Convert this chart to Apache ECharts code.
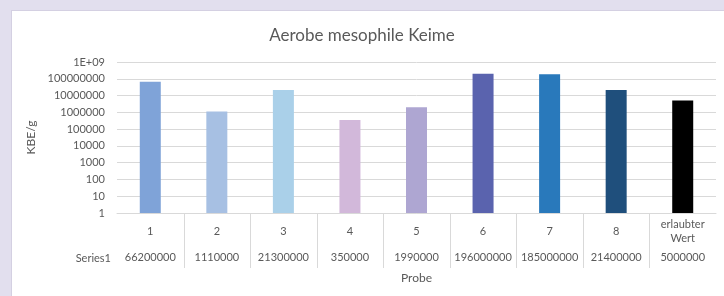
<!DOCTYPE html>
<html>
<head>
<meta charset="utf-8">
<script src="https://cdn.jsdelivr.net/npm/echarts@6/dist/echarts.min.js"></script>
<style>
html,body{margin:0;padding:0;background:#e2dfee;width:724px;height:296px;overflow:hidden;}
#frame{position:absolute;left:11px;top:10px;width:713px;height:286px;background:#ffffff;border-left:1px solid #d4d0e2;border-top:1px solid #d4d0e2;box-sizing:border-box;}
#chart{position:absolute;left:0;top:0;width:724px;height:296px;}
</style>
</head>
<body>
<div id="frame"></div>
<div id="chart"></div>
<script>
const titleText = 'Aerobe mesophile Keime';
const categories = ['1', '2', '3', '4', '5', '6', '7', '8', 'erlaubter\nWert'];
const values = [66200000, 1110000, 21300000, 350000, 1990000, 196000000, 185000000, 21400000, 5000000];
const seriesName = 'Series1';
const barColors = ['#7fa3d8', '#a7c0e3', '#aad0e9', '#d2b8da', '#aea6d2', '#5a63ae', '#2979bb', '#1f4f7c', '#000000'];
const yTicks = ['1', '10', '100', '1000', '10000', '100000', '1000000', '10000000', '100000000', '1E+09'];

const FONT = 'Lato';
const TXT = '#595959';
const chart = echarts.init(document.getElementById('chart'), null, {renderer: 'canvas'});
const option = {
  animation: false,
  backgroundColor: 'transparent',
  textStyle: {fontFamily: FONT, color: TXT},
  title: {
    text: titleText, left: 'center', top: 22,
    textStyle: {fontFamily: FONT, fontSize: 17, fontWeight: 'normal', color: TXT}
  },
  grid: {left: 117, right: 8, top: 62, bottom: 83, containLabel: false},
  xAxis: [{
    type: 'category', data: categories, position: 'bottom',
    axisLine: {lineStyle: {color: '#d9d9d9', width: 1}},
    axisTick: {show: false},
    axisLabel: {interval: 0, margin: 18, verticalAlign: 'middle', fontSize: 11, color: TXT, fontFamily: FONT, lineHeight: 14},
    name: 'Probe', nameLocation: 'middle', nameGap: 59,
    nameTextStyle: {fontSize: 12, color: TXT, fontFamily: FONT}
  }, {
    type: 'category', data: categories, position: 'bottom',
    axisLine: {show: false}, axisTick: {show: false},
    axisLabel: {interval: 0, margin: 44, verticalAlign: 'middle', fontSize: 11, color: TXT, fontFamily: FONT,
      formatter: (v, i) => String(values[i])}
  }],
  yAxis: {
    type: 'log', logBase: 10, min: 1, max: 1e9,
    name: 'KBE/g', nameLocation: 'middle', nameGap: 80, nameRotate: 90,
    nameTextStyle: {fontSize: 12, color: TXT, fontFamily: FONT},
    axisLine: {show: false}, axisTick: {show: false},
    splitLine: {lineStyle: {color: '#d9d9d9', width: 1}},
    axisLabel: {margin: 12, fontSize: 11, color: TXT, fontFamily: FONT,
      formatter: (v) => { const e = Math.round(Math.log10(v)); return yTicks[e]; }}
  },
  series: [{
    name: seriesName, type: 'bar', xAxisIndex: 0, barWidth: 21,
    data: values.map((v, i) => ({value: v, itemStyle: {color: barColors[i]}}))
  }]
};
chart.setOption(option);

// data-table separators between categories, positioned via the axis scale
const axisY = chart.convertToPixel({yAxisIndex: 0}, 1);
const graphics = [{
  type: 'text', x: 111, y: axisY + 45, silent: true,
  style: {text: seriesName, font: '11px ' + FONT, fill: TXT, align: 'right', verticalAlign: 'middle', textAlign: 'right', textVerticalAlign: 'middle'}
}];
for (let i = 0; i < categories.length - 1; i++) {
  const a = chart.convertToPixel({xAxisIndex: 0}, i);
  const b = chart.convertToPixel({xAxisIndex: 0}, i + 1);
  const x = Math.round((a + b) / 2) + 0.5;
  graphics.push({type: 'line', silent: true,
    shape: {x1: x, y1: axisY, x2: x, y2: axisY + 55},
    style: {stroke: '#d9d9d9', lineWidth: 1}});
}
chart.setOption({graphic: graphics});
</script>
</body>
</html>
